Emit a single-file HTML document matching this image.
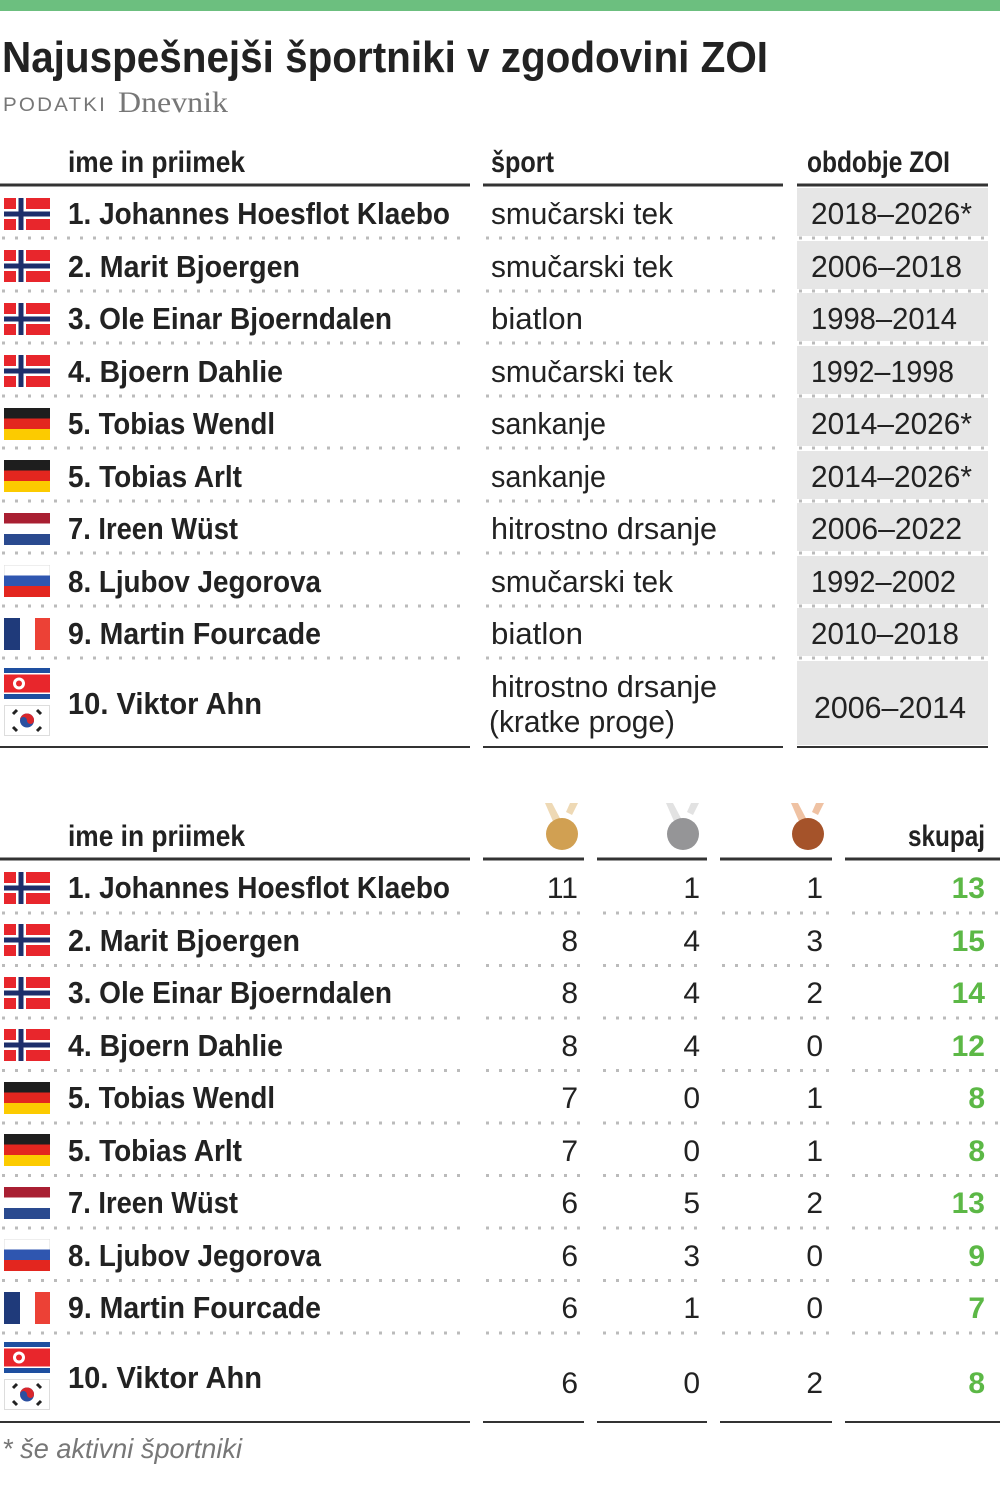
<!DOCTYPE html>
<html><head><meta charset="utf-8"><style>
html,body{margin:0;padding:0;background:#fff;}
svg{display:block;}
.b{font-family:"Liberation Sans",sans-serif;font-weight:bold;fill:#222;}
.r{font-family:"Liberation Sans",sans-serif;fill:#222;}
</style></head><body>
<svg width="1000" height="1488" viewBox="0 0 1000 1488" xmlns="http://www.w3.org/2000/svg">
<defs>
<symbol id="no" viewBox="0 0 46 32"><rect width="46" height="32" fill="#e8262c"/><rect x="12" width="10" height="32" fill="#fff"/><rect y="11" width="46" height="10" fill="#fff"/><rect x="14.5" width="5" height="32" fill="#1d2e6b"/><rect y="13.5" width="46" height="5" fill="#1d2e6b"/></symbol>
<symbol id="de" viewBox="0 0 46 32"><rect width="46" height="11" fill="#1e1e1e"/><rect y="10.5" width="46" height="11" fill="#e3261f"/><rect y="21" width="46" height="11" fill="#fccb00"/></symbol>
<symbol id="nl" viewBox="0 0 46 32"><rect width="46" height="11" fill="#a91f32"/><rect y="10.5" width="46" height="11" fill="#fff"/><rect y="21" width="46" height="11" fill="#2a4a8f"/></symbol>
<symbol id="ru" viewBox="0 0 46 32"><rect width="46" height="32" fill="#fff" stroke="#ddd" stroke-width="1"/><rect y="10.5" width="46" height="11" fill="#2f56b0"/><rect y="21" width="46" height="11" fill="#e3261f"/></symbol>
<symbol id="fr" viewBox="0 0 46 32"><rect width="16" height="32" fill="#1f3a7a"/><rect x="16" width="15" height="32" fill="#fff"/><rect x="31" width="15" height="32" fill="#ec4136"/></symbol>
<symbol id="kp" viewBox="0 0 46 31"><rect width="46" height="31" fill="#fff"/><rect width="46" height="5" fill="#1e4fa0"/><rect y="26" width="46" height="5" fill="#1e4fa0"/><rect y="6.5" width="46" height="18" fill="#e8262c"/><circle cx="15" cy="15.5" r="6" fill="#fff"/><circle cx="15" cy="15.5" r="3" fill="#e8262c"/></symbol>
<symbol id="kr" viewBox="0 0 46 31"><rect x="0.5" y="0.5" width="45" height="30" fill="#fff" stroke="#ddd"/><circle cx="23" cy="15.5" r="7" fill="#2a4fa0"/><path d="M16 15.5 A7 7 0 0 1 30 15.5 A3.5 3.5 0 0 1 23 15.5 A3.5 3.5 0 0 0 16 15.5Z" fill="#d8262c"/><g stroke="#222" stroke-width="3"><line x1="9" y1="9" x2="13" y2="5"/><line x1="33" y1="5" x2="37" y2="9"/><line x1="9" y1="22" x2="13" y2="26"/><line x1="33" y1="26" x2="37" y2="22"/></g></symbol>
</defs>
<rect x="0" y="0" width="1000" height="11" fill="#6cbf7f"/>
<text class="b" x="2" y="72" font-size="44" textLength="766" lengthAdjust="spacingAndGlyphs">Najuspešnejši športniki v zgodovini ZOI</text>
<text x="3" y="111" font-family="Liberation Sans,sans-serif" font-size="19" fill="#777" textLength="104" lengthAdjust="spacingAndGlyphs" letter-spacing="2">PODATKI</text>
<text x="118" y="112" font-family="Liberation Serif,serif" font-size="30" fill="#777" textLength="110" lengthAdjust="spacingAndGlyphs">Dnevnik</text>

<!-- Table 1 -->
<text class="b" x="68" y="172" font-size="30" textLength="177" lengthAdjust="spacingAndGlyphs">ime in priimek</text>
<text class="b" x="491" y="172" font-size="30" textLength="63" lengthAdjust="spacingAndGlyphs">šport</text>
<text class="b" x="807" y="172" font-size="30" textLength="143" lengthAdjust="spacingAndGlyphs">obdobje ZOI</text>
<g stroke="#333" stroke-width="3"><line x1="0" y1="185" x2="470" y2="185"/><line x1="483" y1="185" x2="783" y2="185"/><line x1="797" y1="185" x2="988" y2="185"/>
<line x1="0" y1="747" x2="470" y2="747" stroke-width="2"/><line x1="483" y1="747" x2="783" y2="747" stroke-width="2"/><line x1="797" y1="747" x2="988" y2="747" stroke-width="2"/></g>
<g fill="#e6e6e6">
<rect x="797" y="188" width="191" height="48"/><rect x="797" y="241" width="191" height="48"/><rect x="797" y="293" width="191" height="48"/><rect x="797" y="346" width="191" height="48"/><rect x="797" y="398" width="191" height="48"/><rect x="797" y="451" width="191" height="48"/><rect x="797" y="503" width="191" height="48"/><rect x="797" y="556" width="191" height="48"/><rect x="797" y="608" width="191" height="48"/><rect x="797" y="661" width="191" height="84"/>
</g>
<g stroke="#bbb" stroke-width="3" stroke-dasharray="3 10">
<line x1="2" y1="238" x2="463" y2="238"/><line x1="2" y1="291" x2="463" y2="291"/><line x1="2" y1="343" x2="463" y2="343"/><line x1="2" y1="396" x2="463" y2="396"/><line x1="2" y1="448" x2="463" y2="448"/><line x1="2" y1="501" x2="463" y2="501"/><line x1="2" y1="553" x2="463" y2="553"/><line x1="2" y1="606" x2="463" y2="606"/><line x1="2" y1="658" x2="463" y2="658"/>
<line x1="486" y1="238" x2="778" y2="238"/><line x1="486" y1="291" x2="778" y2="291"/><line x1="486" y1="343" x2="778" y2="343"/><line x1="486" y1="396" x2="778" y2="396"/><line x1="486" y1="448" x2="778" y2="448"/><line x1="486" y1="501" x2="778" y2="501"/><line x1="486" y1="553" x2="778" y2="553"/><line x1="486" y1="606" x2="778" y2="606"/><line x1="486" y1="658" x2="778" y2="658"/>
<line x1="799" y1="238" x2="988" y2="238"/><line x1="799" y1="291" x2="988" y2="291"/><line x1="799" y1="343" x2="988" y2="343"/><line x1="799" y1="396" x2="988" y2="396"/><line x1="799" y1="448" x2="988" y2="448"/><line x1="799" y1="501" x2="988" y2="501"/><line x1="799" y1="553" x2="988" y2="553"/><line x1="799" y1="606" x2="988" y2="606"/><line x1="799" y1="658" x2="988" y2="658"/>
</g>
<use href="#no" x="4" y="198" width="46" height="32"/><use href="#no" x="4" y="250" width="46" height="32"/><use href="#no" x="4" y="303" width="46" height="32"/><use href="#no" x="4" y="355" width="46" height="32"/>
<use href="#de" x="4" y="408" width="46" height="32"/><use href="#de" x="4" y="460" width="46" height="32"/><use href="#nl" x="4" y="513" width="46" height="32"/><use href="#ru" x="4" y="565" width="46" height="32"/><use href="#fr" x="4" y="618" width="46" height="32"/>
<use href="#kp" x="4" y="668" width="46" height="31"/><use href="#kr" x="4" y="705" width="46" height="31"/>
<g class="b" font-size="31">
<text x="68" y="224" textLength="382" lengthAdjust="spacingAndGlyphs">1. Johannes Hoesflot Klaebo</text>
<text x="68" y="277" textLength="232" lengthAdjust="spacingAndGlyphs">2. Marit Bjoergen</text>
<text x="68" y="329" textLength="324" lengthAdjust="spacingAndGlyphs">3. Ole Einar Bjoerndalen</text>
<text x="68" y="382" textLength="215" lengthAdjust="spacingAndGlyphs">4. Bjoern Dahlie</text>
<text x="68" y="434" textLength="207" lengthAdjust="spacingAndGlyphs">5. Tobias Wendl</text>
<text x="68" y="487" textLength="174" lengthAdjust="spacingAndGlyphs">5. Tobias Arlt</text>
<text x="68" y="539" textLength="170" lengthAdjust="spacingAndGlyphs">7. Ireen Wüst</text>
<text x="68" y="592" textLength="253" lengthAdjust="spacingAndGlyphs">8. Ljubov Jegorova</text>
<text x="68" y="644" textLength="253" lengthAdjust="spacingAndGlyphs">9. Martin Fourcade</text>
<text x="68" y="714" textLength="194" lengthAdjust="spacingAndGlyphs">10. Viktor Ahn</text>
</g>
<g class="r" font-size="31">
<text x="491" y="224" textLength="182" lengthAdjust="spacingAndGlyphs">smučarski tek</text>
<text x="491" y="277" textLength="182" lengthAdjust="spacingAndGlyphs">smučarski tek</text>
<text x="491" y="329" textLength="92" lengthAdjust="spacingAndGlyphs">biatlon</text>
<text x="491" y="382" textLength="182" lengthAdjust="spacingAndGlyphs">smučarski tek</text>
<text x="491" y="434" textLength="115" lengthAdjust="spacingAndGlyphs">sankanje</text>
<text x="491" y="487" textLength="115" lengthAdjust="spacingAndGlyphs">sankanje</text>
<text x="491" y="539" textLength="226" lengthAdjust="spacingAndGlyphs">hitrostno drsanje</text>
<text x="491" y="592" textLength="182" lengthAdjust="spacingAndGlyphs">smučarski tek</text>
<text x="491" y="644" textLength="92" lengthAdjust="spacingAndGlyphs">biatlon</text>
<text x="491" y="697" textLength="226" lengthAdjust="spacingAndGlyphs">hitrostno drsanje</text>
<text x="489" y="732" textLength="186" lengthAdjust="spacingAndGlyphs">(kratke proge)</text>
<text x="811" y="224" textLength="161" lengthAdjust="spacingAndGlyphs">2018–2026*</text>
<text x="811" y="277" textLength="151" lengthAdjust="spacingAndGlyphs">2006–2018</text>
<text x="811" y="329" textLength="146" lengthAdjust="spacingAndGlyphs">1998–2014</text>
<text x="811" y="382" textLength="143" lengthAdjust="spacingAndGlyphs">1992–1998</text>
<text x="811" y="434" textLength="161" lengthAdjust="spacingAndGlyphs">2014–2026*</text>
<text x="811" y="487" textLength="161" lengthAdjust="spacingAndGlyphs">2014–2026*</text>
<text x="811" y="539" textLength="151" lengthAdjust="spacingAndGlyphs">2006–2022</text>
<text x="811" y="592" textLength="145" lengthAdjust="spacingAndGlyphs">1992–2002</text>
<text x="811" y="644" textLength="148" lengthAdjust="spacingAndGlyphs">2010–2018</text>
<text x="814" y="718" textLength="152" lengthAdjust="spacingAndGlyphs">2006–2014</text>
</g>

<!-- Table 2 -->
<text class="b" x="68" y="846" font-size="30" textLength="177" lengthAdjust="spacingAndGlyphs">ime in priimek</text>
<text class="b" x="985" y="846" font-size="30" text-anchor="end" textLength="77" lengthAdjust="spacingAndGlyphs">skupaj</text>
<g>
<path d="M545 803 L552 803 L562 822 L555 826Z" fill="#eed9b5"/><path d="M570 803 L578 803 L572 815 L566 812Z" fill="#eed9b5"/><circle cx="562" cy="834" r="16" fill="#d1a052"/>
<path d="M666 803 L673 803 L683 822 L676 826Z" fill="#e2e2e2"/><path d="M691 803 L699 803 L693 815 L687 812Z" fill="#e2e2e2"/><circle cx="683" cy="834" r="16" fill="#959597"/>
<path d="M791 803 L798 803 L808 822 L801 826Z" fill="#efc2a3"/><path d="M816 803 L824 803 L818 815 L812 812Z" fill="#efc2a3"/><circle cx="808" cy="834" r="16" fill="#a5532a"/>
</g>
<g stroke="#333" stroke-width="3"><line x1="0" y1="859" x2="470" y2="859"/><line x1="483" y1="859" x2="584" y2="859"/><line x1="597" y1="859" x2="707" y2="859"/><line x1="720" y1="859" x2="832" y2="859"/><line x1="845" y1="859" x2="1000" y2="859"/>
<g stroke-width="2"><line x1="0" y1="1422" x2="470" y2="1422"/><line x1="483" y1="1422" x2="584" y2="1422"/><line x1="597" y1="1422" x2="707" y2="1422"/><line x1="720" y1="1422" x2="832" y2="1422"/><line x1="845" y1="1422" x2="1000" y2="1422"/></g></g>
<g stroke="#bbb" stroke-width="3" stroke-dasharray="3 10">
<g id="dl"><line x1="2" y1="913" x2="463" y2="913"/><line x1="486" y1="913" x2="583" y2="913"/><line x1="603" y1="913" x2="700" y2="913"/><line x1="722" y1="913" x2="830" y2="913"/><line x1="852" y1="913" x2="1000" y2="913"/></g>
<use href="#dl" y="52.5"/><use href="#dl" y="105"/><use href="#dl" y="157.5"/><use href="#dl" y="210"/><use href="#dl" y="262.5"/><use href="#dl" y="315"/><use href="#dl" y="367.5"/><use href="#dl" y="420"/>
</g>
<use href="#no" x="4" y="872" width="46" height="32"/><use href="#no" x="4" y="924" width="46" height="32"/><use href="#no" x="4" y="977" width="46" height="32"/><use href="#no" x="4" y="1029" width="46" height="32"/>
<use href="#de" x="4" y="1082" width="46" height="32"/><use href="#de" x="4" y="1134" width="46" height="32"/><use href="#nl" x="4" y="1187" width="46" height="32"/><use href="#ru" x="4" y="1239" width="46" height="32"/><use href="#fr" x="4" y="1292" width="46" height="32"/>
<use href="#kp" x="4" y="1342" width="46" height="31"/><use href="#kr" x="4" y="1379" width="46" height="31"/>
<g class="b" font-size="31">
<text x="68" y="898" textLength="382" lengthAdjust="spacingAndGlyphs">1. Johannes Hoesflot Klaebo</text>
<text x="68" y="951" textLength="232" lengthAdjust="spacingAndGlyphs">2. Marit Bjoergen</text>
<text x="68" y="1003" textLength="324" lengthAdjust="spacingAndGlyphs">3. Ole Einar Bjoerndalen</text>
<text x="68" y="1056" textLength="215" lengthAdjust="spacingAndGlyphs">4. Bjoern Dahlie</text>
<text x="68" y="1108" textLength="207" lengthAdjust="spacingAndGlyphs">5. Tobias Wendl</text>
<text x="68" y="1161" textLength="174" lengthAdjust="spacingAndGlyphs">5. Tobias Arlt</text>
<text x="68" y="1213" textLength="170" lengthAdjust="spacingAndGlyphs">7. Ireen Wüst</text>
<text x="68" y="1266" textLength="253" lengthAdjust="spacingAndGlyphs">8. Ljubov Jegorova</text>
<text x="68" y="1318" textLength="253" lengthAdjust="spacingAndGlyphs">9. Martin Fourcade</text>
<text x="68" y="1388" textLength="194" lengthAdjust="spacingAndGlyphs">10. Viktor Ahn</text>
</g>
<g class="r" font-size="30" text-anchor="end">
<text x="578" y="898">11</text><text x="700" y="898">1</text><text x="823" y="898">1</text>
<text x="578" y="951">8</text><text x="700" y="951">4</text><text x="823" y="951">3</text>
<text x="578" y="1003">8</text><text x="700" y="1003">4</text><text x="823" y="1003">2</text>
<text x="578" y="1056">8</text><text x="700" y="1056">4</text><text x="823" y="1056">0</text>
<text x="578" y="1108">7</text><text x="700" y="1108">0</text><text x="823" y="1108">1</text>
<text x="578" y="1161">7</text><text x="700" y="1161">0</text><text x="823" y="1161">1</text>
<text x="578" y="1213">6</text><text x="700" y="1213">5</text><text x="823" y="1213">2</text>
<text x="578" y="1266">6</text><text x="700" y="1266">3</text><text x="823" y="1266">0</text>
<text x="578" y="1318">6</text><text x="700" y="1318">1</text><text x="823" y="1318">0</text>
<text x="578" y="1393">6</text><text x="700" y="1393">0</text><text x="823" y="1393">2</text>
</g>
<g font-family="Liberation Sans,sans-serif" font-weight="bold" font-size="30" fill="#5cb846" text-anchor="end">
<text x="985" y="898">13</text><text x="985" y="951">15</text><text x="985" y="1003">14</text><text x="985" y="1056">12</text><text x="985" y="1108">8</text><text x="985" y="1161">8</text><text x="985" y="1213">13</text><text x="985" y="1266">9</text><text x="985" y="1318">7</text><text x="985" y="1393">8</text>
</g>
<text x="2" y="1458" font-family="Liberation Sans,sans-serif" font-style="italic" font-size="28" fill="#777" textLength="240" lengthAdjust="spacingAndGlyphs">* še aktivni športniki</text>
</svg>
</body></html>
